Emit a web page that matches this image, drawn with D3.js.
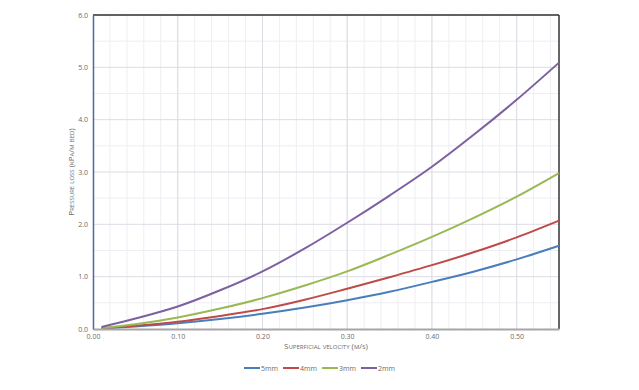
<!doctype html>
<html>
<head>
<meta charset="utf-8">
<script src="https://d3js.org/d3.v7.min.js"></script>
<style>
  body { margin: 0; background: #fff; }
  text { font-family: "Open Sans", sans-serif; fill: #6b6b6b; }
  .axis-title { font-variant: small-caps; font-size: 8px; }
</style>
</head>
<body>
<svg width="639" height="390"></svg>
<script>
// superficial velocity (m/s)
var velocity = [0.01, 0.05, 0.10, 0.15, 0.20, 0.25, 0.30, 0.35, 0.40, 0.45, 0.50, 0.55];
// pressure loss (kPa/m bed) per particle size
var loss5mm = [0.01, 0.05, 0.11, 0.19, 0.29, 0.41, 0.55, 0.71, 0.90, 1.10, 1.33, 1.59];
var loss4mm = [0.01, 0.06, 0.14, 0.25, 0.38, 0.56, 0.77, 0.99, 1.22, 1.47, 1.75, 2.07];
var loss3mm = [0.02, 0.09, 0.22, 0.39, 0.59, 0.83, 1.10, 1.42, 1.76, 2.13, 2.53, 2.98];
var loss2mm = [0.04, 0.20, 0.43, 0.74, 1.10, 1.54, 2.03, 2.55, 3.10, 3.72, 4.38, 5.09];
var seriesNames = ["5mm", "4mm", "3mm", "2mm"];
var seriesColors = ["#4a7ebb", "#be4b48", "#98b954", "#7d60a0"];
var xTicks = [0.00, 0.10, 0.20, 0.30, 0.40, 0.50];
var yTicks = [0, 1, 2, 3, 4, 5, 6];

var seriesValues = [loss5mm, loss4mm, loss3mm, loss2mm];

var svg = d3.select("svg");
// note: "top" clashes with window.top, so plot edges get a prefix
var pLeft = 93, pRight = 559, pTop = 15, pBottom = 329;

var x = d3.scaleLinear().domain([0, 0.55]).range([pLeft, pRight]);
var y = d3.scaleLinear().domain([0, 6]).range([pBottom, pTop]);

// minor grid
var g = svg.append("g");
g.selectAll(".vminor").data(d3.range(0, 56, 2).map(function(d) { return d / 100; }))
  .enter().append("line")
  .attr("x1", function(d) { return x(d); }).attr("x2", function(d) { return x(d); })
  .attr("y1", pTop).attr("y2", pBottom)
  .attr("stroke", "#eeeef4").attr("stroke-width", 1);
g.selectAll(".hminor").data(d3.range(0.5, 6, 1))
  .enter().append("line")
  .attr("x1", pLeft).attr("x2", pRight)
  .attr("y1", function(d) { return y(d); }).attr("y2", function(d) { return y(d); })
  .attr("stroke", "#eeeef4").attr("stroke-width", 1);
// major grid
g.selectAll(".vmajor").data(xTicks.slice(1))
  .enter().append("line")
  .attr("x1", function(d) { return x(d); }).attr("x2", function(d) { return x(d); })
  .attr("y1", pTop).attr("y2", pBottom)
  .attr("stroke", "#dcdce4").attr("stroke-width", 1);
g.selectAll(".hmajor").data(yTicks.slice(1))
  .enter().append("line")
  .attr("x1", pLeft).attr("x2", pRight)
  .attr("y1", function(d) { return y(d); }).attr("y2", function(d) { return y(d); })
  .attr("stroke", "#dcdce4").attr("stroke-width", 1);

// frame
svg.append("line").attr("x1", pLeft).attr("x2", pRight).attr("y1", pTop).attr("y2", pTop)
  .attr("stroke", "#333").attr("stroke-width", 1.5);
svg.append("line").attr("x1", pRight).attr("x2", pRight).attr("y1", pTop).attr("y2", pBottom)
  .attr("stroke", "#333").attr("stroke-width", 1.5);

// series
var line = d3.line()
  .x(function(d) { return x(d[0]); })
  .y(function(d) { return y(d[1]); })
  .curve(d3.curveCatmullRom.alpha(0.5));

seriesValues.forEach(function(vals, i) {
  svg.append("path")
    .attr("d", line(velocity.map(function(v, j) { return [v, vals[j]]; })))
    .attr("fill", "none")
    .attr("stroke", seriesColors[i])
    .attr("stroke-width", 2);
});

// axes
var xAxis = svg.append("g").attr("transform", "translate(0," + pBottom + ")")
  .call(d3.axisBottom(x).tickValues(xTicks).tickFormat(d3.format(".2f")).tickSize(0).tickPadding(5));
xAxis.select(".domain").attr("stroke", "#a6a6a6").attr("stroke-width", 2);
xAxis.selectAll("text").attr("font-size", "7px").attr("fill", "#6b6b6b").style("font-family", "Open Sans");

var yAxis = svg.append("g").attr("transform", "translate(" + pLeft + ",0)")
  .call(d3.axisLeft(y).tickValues(yTicks).tickFormat(d3.format(".1f")).tickSize(0).tickPadding(5));
yAxis.select(".domain").attr("stroke", "#4f6ba0").attr("stroke-width", 1.5);
yAxis.selectAll("text").attr("font-size", "7px").attr("fill", "#6b6b6b").style("font-family", "Open Sans");

// titles
svg.append("text").attr("class", "axis-title")
  .attr("x", (pLeft + pRight) / 2).attr("y", 349)
  .attr("text-anchor", "middle")
  .text("Superficial velocity (m/s)");
svg.append("text").attr("class", "axis-title")
  .attr("transform", "translate(74," + ((pTop + pBottom) / 2) + ") rotate(-90)")
  .attr("text-anchor", "middle")
  .text("Pressure loss (kPa/m bed)");

// legend
var legendX = [244, 283, 322, 361];
var legend = svg.append("g");
seriesNames.forEach(function(name, i) {
  legend.append("line")
    .attr("x1", legendX[i]).attr("x2", legendX[i] + 16)
    .attr("y1", 368).attr("y2", 368)
    .attr("stroke", seriesColors[i]).attr("stroke-width", 2);
  legend.append("text")
    .attr("x", legendX[i] + 17).attr("y", 370.5)
    .attr("font-size", "7px")
    .text(name);
});
</script>
</body>
</html>
